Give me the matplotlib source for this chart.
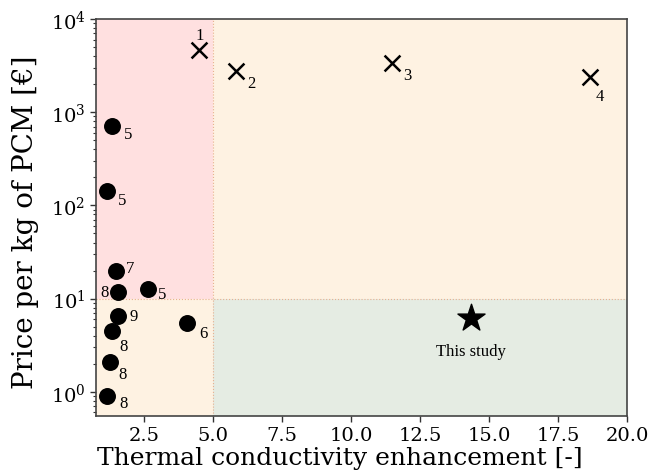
import matplotlib
matplotlib.use("Agg")
import matplotlib.pyplot as plt

# Literature data (crosses)
cross_x = [4.5, 5.85, 11.5, 18.65]
cross_y = [4700, 2750, 3350, 2380]
cross_labels = ["1", "2", "3", "4"]
cross_offsets = [(0, 15), (15, -12), (15, -12), (10, -19)]

# Literature data (circles)
circ_x = [1.33, 1.16, 1.48, 1.56, 2.63, 1.56, 4.06, 1.34, 1.27, 1.16]
circ_y = [710, 143, 20, 11.8, 12.7, 6.5, 5.5, 4.5, 2.1, 0.9]
circ_labels = ["5", "5", "7", "8", "5", "9", "6", "8", "8", "8"]
circ_offsets = [(16, -8), (15, -9), (14, 3), (-14, 0), (15, -5), (16, 0),
                (16, -10), (12, -15), (12, -12), (17, -7)]

# This study
star_x = [14.35]
star_y = [6.2]
star_label = "This study"

x_split = 5.0
y_split = 10.0
xlim = (0.76, 20.0)
ylim = (0.55, 1e4)

fig = plt.figure(figsize=(6.51, 4.77), dpi=100)
ax = fig.add_axes([0.1475, 0.1258, 0.8155, 0.8322])
ax.set_xscale("linear")
ax.set_yscale("log")
ax.set_xlim(*xlim)
ax.set_ylim(*ylim)

# Background regions
ax.fill_between([xlim[0], x_split], y_split, ylim[1], color="#ffe0e0", zorder=0, lw=0)
ax.fill_between([x_split, xlim[1]], y_split, ylim[1], color="#fef2e2", zorder=0, lw=0)
ax.fill_between([xlim[0], x_split], ylim[0], y_split, color="#fef2e2", zorder=0, lw=0)
ax.fill_between([x_split, xlim[1]], ylim[0], y_split, color="#e5ece3", zorder=0, lw=0)
ax.axvline(x_split, color="#e8b090", lw=0.8, ls=":", zorder=1)
ax.axhline(y_split, color="#e8b090", lw=0.8, ls=":", zorder=1)

px2pt = 0.72
lab_font = dict(family="Liberation Serif", fontsize=12, color="black")

ax.scatter(cross_x, cross_y, marker="x", s=130, color="black", linewidths=1.8, zorder=3)
for x, y, t, (dx, dy) in zip(cross_x, cross_y, cross_labels, cross_offsets):
    ax.annotate(t, (x, y), xytext=(dx * px2pt, dy * px2pt), textcoords="offset points",
                ha="center", va="center", **lab_font)

ax.scatter(circ_x, circ_y, marker="o", s=125, color="black", zorder=3)
for x, y, t, (dx, dy) in zip(circ_x, circ_y, circ_labels, circ_offsets):
    ax.annotate(t, (x, y), xytext=(dx * px2pt, dy * px2pt), textcoords="offset points",
                ha="center", va="center", **lab_font)

ax.scatter(star_x, star_y, marker="*", s=420, color="black", zorder=3)
ax.annotate(star_label, (star_x[0], star_y[0]), xytext=(0, -33 * px2pt), textcoords="offset points",
            ha="center", va="center", family="Liberation Serif", fontsize=12)

ax.set_xticks([2.5, 5.0, 7.5, 10.0, 12.5, 15.0, 17.5, 20.0])
ax.set_xticklabels(["2.5", "5.0", "7.5", "10.0", "12.5", "15.0", "17.5", "20.0"])
for lbl in ax.get_xticklabels() + ax.get_yticklabels():
    lbl.set_family("DejaVu Serif")
    lbl.set_fontsize(14)
ax.tick_params(axis="both", which="major", length=4, width=1, color="#333333")
ax.tick_params(axis="y", which="minor", length=2.5, width=0.8, color="#333333")

ax.set_xlabel("Thermal conductivity enhancement [-]", family="DejaVu Serif", fontsize=18, labelpad=0)
ax.xaxis.set_label_coords(0.46, -0.075)
ax.set_ylabel("Price per kg of PCM [€]", family="DejaVu Serif", fontsize=20)
ax.yaxis.set_label_coords(-0.108, 0.49)

for s in ax.spines.values():
    s.set_color("#444444")
    s.set_linewidth(1.2)

fig.savefig("out.png", dpi=100)
